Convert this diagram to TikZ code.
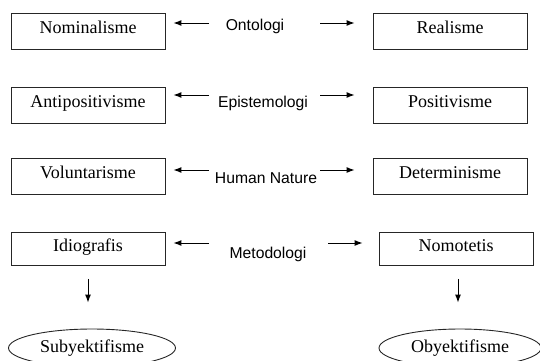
\documentclass[tikz,border=0pt]{standalone}
\usepackage{fontspec}
\setmainfont{Liberation Serif}
\newfontfamily\dimfont{Liberation Sans}
\usetikzlibrary{arrows.meta,shapes.geometric}
\tikzset{kotak/.style={draw=black!85, line width=0.9pt, minimum width=154pt, minimum height=36pt,
  inner sep=0pt, text height=12pt, text depth=7pt, font=\fontsize{18}{20}\selectfont}}
\tikzset{elips/.style={ellipse, draw=black!85, line width=0.9pt, inner sep=0pt, minimum height=38pt,
  text height=12pt, text depth=4pt, font=\fontsize{18}{20}\selectfont}}
\tikzset{dimensi/.style={inner sep=0pt, text height=11pt, text depth=3pt, font=\dimfont\fontsize{15.7}{18}\selectfont}}
\tikzset{panah/.style={->, >={Latex[length=8pt,width=6pt]}, line width=1pt}}

\begin{document}
\begin{tikzpicture}[x=1pt, y=-1pt]
      \useasboundingbox (0,0) rectangle (540,360);

      \node [kotak] (nom) at (88,31) {Nominalisme};
      \node [kotak] (real) at (450,31) {Realisme};
      \node [dimensi] (ont) at (255,26) {Ontologi};

      \node [kotak] (anti) at (88,105) {Antipositivisme};
      \node [kotak] (posi) at (450,105) {Positivisme};
      \node [dimensi] (epis) at (263,103) {Epistemologi};

      \node [kotak] (volu) at (88,176) {Voluntarisme};
      \node [kotak] (dete) at (450,176) {Determinisme};
      \node [dimensi] (human) at (266,179) {Human Nature};

      \node [kotak, minimum height=33pt] (idio) at (88,249) {Idiografis};
      \node [kotak, minimum height=33pt] (nomo) at (456,249) {Nomotetis};
      \node [dimensi] (meto) at (268,254) {Metodologi};

      \node [elips, minimum width=167pt] (subj) at (92,348) {Subyektifisme};
      \node [elips, minimum width=162pt] (obj) at (460,348) {Obyektifisme};

      \coordinate (ontL) at (209,23);
      \coordinate (ontR) at (320,23);
      \coordinate (episL) at (209,95);
      \coordinate (episR) at (320,95);
      \coordinate (humanL) at (209,170);
      \coordinate (humanR) at (320,170);
      \coordinate (metoL) at (209,243);
      \coordinate (metoR) at (328,243);

      \draw [panah, shorten >=8pt] (ontL) -- (ontL -| nom.east);
      \draw [panah, shorten >=18pt] (ontR) -- (ontR -| real.west);
      \draw [panah, shorten >=8pt] (episL) -- (episL -| anti.east);
      \draw [panah, shorten >=18pt] (episR) -- (episR -| posi.west);
      \draw [panah, shorten >=8pt] (humanL) -- (humanL -| volu.east);
      \draw [panah, shorten >=18pt] (humanR) -- (humanR -| dete.west);
      \draw [panah, shorten >=8pt] (metoL) -- (metoL -| idio.east);
      \draw [panah, shorten >=16pt] (metoR) -- (metoR -| nomo.west);

      \draw [panah, shorten <=13pt, shorten >=26pt] (idio.south) -- (idio.south |- subj.north);
      \draw [panah, shorten <=13pt, shorten >=26pt] ([xshift=2pt]nomo.south) -- ([xshift=2pt]nomo.south |- obj.north);
\end{tikzpicture}
\end{document}
